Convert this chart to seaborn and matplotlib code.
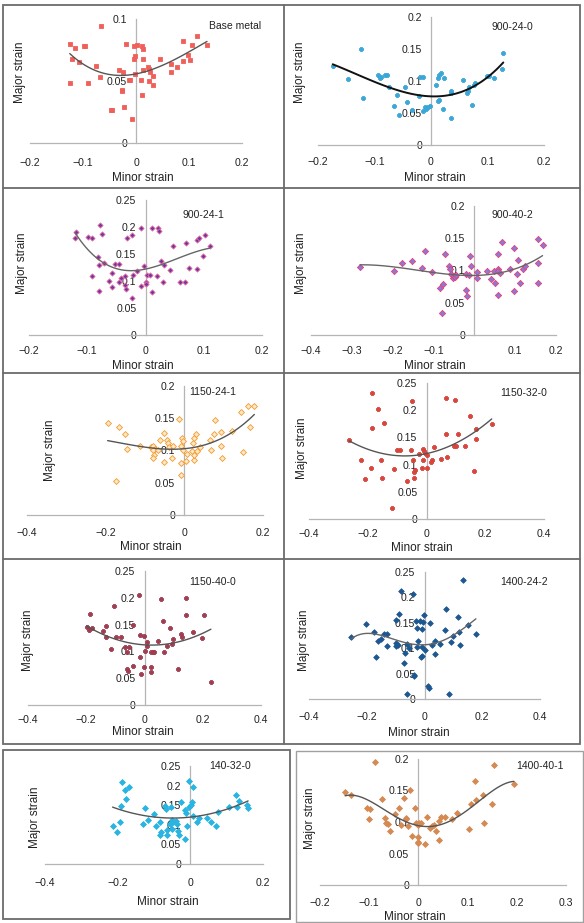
import matplotlib
matplotlib.use('Agg')
import matplotlib.pyplot as plt
import seaborn as sns
from matplotlib.ticker import FuncFormatter
from matplotlib.patches import Rectangle
from matplotlib.lines import Line2D

sns.set_style('white')
plt.rcParams['font.family'] = ['Liberation Sans', 'DejaVu Sans']

# ---------------------
# Data (minor strain, major strain)
# ---------------------
base_x = [-0.066, -0.125, -0.115, -0.099, -0.096, -0.018, -0.004, 0.001, 0.011, 0.013, -0.121, -0.108, -0.075, -0.067,
          -0.033, -0.025, -0.014, -0.011, -0.027, -0.026, -0.047, -0.045, -0.022, -0.008, -0.003, -0.001, 0.013, -0.001,
          0.009, 0.011, 0.013, 0.022, 0.024, 0.026, 0.024, 0.033, 0.033, 0.045, 0.066, 0.066, 0.077, 0.089, 0.089,
          0.098, 0.101, 0.105, 0.115, 0.134, -0.124, -0.091]
base_y = [0.094, 0.080, 0.077, 0.078, 0.078, 0.080, 0.078, 0.079, 0.078, 0.076, 0.068, 0.065, 0.062, 0.053,
          0.059, 0.057, 0.051, 0.051, 0.043, 0.042, 0.027, 0.027, 0.029, 0.019, 0.068, 0.070, 0.068, 0.056,
          0.051, 0.039, 0.059, 0.061, 0.060, 0.057, 0.050, 0.054, 0.047, 0.068, 0.064, 0.057, 0.061, 0.066, 0.082,
          0.071, 0.067, 0.079, 0.086, 0.079, 0.048, 0.048]

s900_24_0_x = [-0.174, -0.147, -0.124, -0.120, -0.093, -0.091, -0.089, -0.082, -0.077, -0.074, -0.066, -0.060, -0.057,
               -0.046, -0.042, -0.034, -0.022, -0.020, -0.015, -0.014, -0.011, -0.008, -0.005, -0.002, 0.008, 0.013,
               0.014, 0.017, 0.013, 0.014, 0.021, 0.023, 0.035, 0.035, 0.036, 0.057, 0.063, 0.066, 0.067, 0.073,
               0.076, 0.078, 0.099, 0.103, 0.112, 0.125, 0.128]
s900_24_0_y = [0.124, 0.103, 0.150, 0.073, 0.110, 0.105, 0.107, 0.110, 0.110, 0.091, 0.061, 0.078, 0.047,
               0.090, 0.067, 0.055, 0.077, 0.107, 0.107, 0.053, 0.060, 0.056, 0.059, 0.061, 0.093, 0.104,
               0.110, 0.112, 0.068, 0.071, 0.056, 0.104, 0.085, 0.081, 0.042, 0.101, 0.082, 0.085, 0.091, 0.063,
               0.093, 0.097, 0.108, 0.108, 0.105, 0.118, 0.144]

s900_24_1_x = [-0.119, -0.121, -0.078, -0.098, -0.091, -0.074, -0.081, -0.079, -0.071, -0.091, -0.080, -0.062, -0.058,
               -0.057, -0.052, -0.046, -0.045, -0.042, -0.036, -0.035, -0.034, -0.032, -0.024, -0.024, -0.022, -0.014,
               -0.008, -0.007, -0.002, 0.001, 0.001, 0.003, 0.007, 0.011, 0.011, 0.020, 0.021, 0.024, 0.027, 0.031,
               0.030, 0.042, 0.047, 0.060, 0.068, 0.069, 0.074, 0.088, 0.088, 0.092, 0.098, 0.102, 0.110]
s900_24_1_y = [0.191, 0.179, 0.204, 0.181, 0.179, 0.187, 0.145, 0.130, 0.133, 0.110, 0.081, 0.100, 0.114,
               0.088, 0.131, 0.131, 0.098, 0.106, 0.110, 0.093, 0.086, 0.179, 0.186, 0.068, 0.111, 0.119,
               0.090, 0.199, 0.127, 0.099, 0.094, 0.111, 0.112, 0.199, 0.080, 0.110, 0.198, 0.193, 0.137, 0.130,
               0.098, 0.120, 0.165, 0.098, 0.099, 0.170, 0.125, 0.122, 0.176, 0.179, 0.146, 0.186, 0.164]

s900_40_2_x = [-0.280, -0.197, -0.176, -0.153, -0.127, -0.121, -0.103, -0.084, -0.076, -0.078, -0.071, -0.062, -0.060,
               -0.057, -0.053, -0.051, -0.047, -0.045, -0.021, -0.021, -0.017, -0.013, -0.011, -0.007, 0.006, 0.006,
               0.032, 0.047, 0.042, 0.051, 0.059, 0.059, 0.057, 0.064, 0.059, 0.067, 0.087, 0.098, 0.098, 0.104,
               0.108, 0.112, 0.120, 0.124, 0.155, 0.157, 0.157, 0.167]
s900_40_2_y = [0.105, 0.099, 0.111, 0.115, 0.104, 0.130, 0.098, 0.073, 0.079, 0.034, 0.126, 0.107, 0.103,
               0.094, 0.088, 0.092, 0.090, 0.093, 0.095, 0.069, 0.060, 0.093, 0.122, 0.107, 0.098, 0.089,
               0.099, 0.099, 0.087, 0.081, 0.126, 0.103, 0.099, 0.096, 0.062, 0.144, 0.103, 0.135, 0.068, 0.095,
               0.116, 0.080, 0.102, 0.107, 0.149, 0.112, 0.081, 0.139]

s1150_24_1_x = [-0.195, -0.166, -0.150, -0.146, -0.173, -0.112, -0.085, -0.079, -0.074, -0.080, -0.078, -0.079, -0.063,
                -0.068, -0.051, -0.051, -0.045, -0.042, -0.040, -0.032, -0.028, -0.014, -0.008, -0.008, -0.008, -0.006,
                -0.004, -0.003, 0.003, 0.007, 0.020, 0.023, 0.024, 0.030, 0.024, 0.024, 0.032, 0.040, 0.066, 0.068,
                0.075, 0.077, 0.093, 0.093, 0.097, 0.122, 0.144, 0.150, 0.167, 0.163, 0.178]
s1150_24_1_y = [0.142, 0.136, 0.125, 0.102, 0.052, 0.107, 0.105, 0.107, 0.102, 0.101, 0.093, 0.089, 0.116,
                0.101, 0.127, 0.082, 0.116, 0.112, 0.106, 0.088, 0.107, 0.149, 0.107, 0.081, 0.062, 0.119,
                0.114, 0.101, 0.084, 0.095, 0.099, 0.112, 0.119, 0.126, 0.086, 0.093, 0.099, 0.106, 0.116, 0.101,
                0.125, 0.147, 0.128, 0.107, 0.088, 0.130, 0.159, 0.097, 0.136, 0.169, 0.169]

s1150_32_0_x = [-0.263, -0.224, -0.211, -0.190, -0.186, -0.186, -0.164, -0.154, -0.150, -0.144, -0.116, -0.109, -0.101,
                -0.090, -0.067, -0.052, -0.050, -0.047, -0.044, -0.039, -0.041, -0.027, -0.016, -0.013, -0.008, -0.005,
                -0.013, 0.001, 0.003, 0.016, 0.020, 0.026, 0.050, 0.066, 0.067, 0.071, 0.098, 0.094, 0.101, 0.107,
                0.132, 0.149, 0.160, 0.169, 0.169, 0.222]
s1150_32_0_y = [0.146, 0.109, 0.073, 0.093, 0.232, 0.167, 0.202, 0.109, 0.075, 0.176, 0.020, 0.092, 0.127,
                0.126, 0.069, 0.127, 0.217, 0.109, 0.087, 0.090, 0.075, 0.120, 0.093, 0.129, 0.125, 0.121,
                0.109, 0.093, 0.118, 0.104, 0.109, 0.132, 0.110, 0.157, 0.222, 0.114, 0.219, 0.135, 0.135, 0.157,
                0.135, 0.190, 0.089, 0.147, 0.165, 0.175]

s1150_40_0_x = [-0.199, -0.188, -0.190, -0.179, -0.144, -0.133, -0.133, -0.105, -0.099, -0.079, -0.116, -0.068, -0.060,
                -0.053, -0.060, -0.057, -0.039, -0.039, -0.019, -0.016, -0.014, -0.013, -0.001, -0.001, 0.003, 0.007,
                0.010, 0.021, 0.028, 0.032, 0.024, 0.024, 0.047, 0.055, 0.062, 0.068, 0.076, 0.087, 0.096, 0.099,
                0.116, 0.127, 0.130, 0.142, 0.142, 0.167, 0.196, 0.204, 0.228]
s1150_40_0_y = [0.146, 0.169, 0.140, 0.144, 0.138, 0.148, 0.127, 0.185, 0.127, 0.127, 0.105, 0.109, 0.099,
                0.109, 0.068, 0.063, 0.149, 0.073, 0.205, 0.130, 0.090, 0.058, 0.128, 0.071, 0.100, 0.110,
                0.118, 0.099, 0.099, 0.099, 0.070, 0.061, 0.119, 0.197, 0.157, 0.099, 0.110, 0.144, 0.113, 0.124,
                0.068, 0.133, 0.127, 0.199, 0.167, 0.136, 0.125, 0.167, 0.042]

s1400_24_2_x = [-0.253, -0.201, -0.175, -0.169, -0.160, -0.152, -0.140, -0.129, -0.131, -0.100, -0.091, -0.098, -0.098,
                -0.089, -0.083, -0.071, -0.066, -0.060, -0.052, -0.060, -0.040, -0.037, -0.035, -0.031, -0.026, -0.026,
                -0.022, -0.014, -0.010, -0.012, -0.008, -0.010, -0.005, -0.002, 0.000, 0.013, 0.017, 0.018, 0.026,
                0.038, 0.038, 0.052, 0.072, 0.076, 0.086, 0.093, 0.099, 0.115, 0.121, 0.124, 0.132, 0.151, 0.178]
s1400_24_2_y = [0.123, 0.148, 0.132, 0.082, 0.115, 0.119, 0.127, 0.127, 0.104, 0.110, 0.107, 0.104, 0.156,
                0.167, 0.213, 0.071, 0.091, 0.108, 0.100, 0.009, 0.207, 0.048, 0.045, 0.154, 0.140, 0.102,
                0.114, 0.154, 0.138, 0.082, 0.084, 0.102, 0.151, 0.166, 0.096, 0.026, 0.022, 0.150, 0.106,
                0.115, 0.089, 0.108, 0.135, 0.178, 0.010, 0.112, 0.125, 0.161, 0.132, 0.107, 0.235, 0.145, 0.128]

s140_32_0_x = [-0.214, -0.201, -0.191, -0.193, -0.187, -0.179, -0.178, -0.168, -0.131, -0.126, -0.117, -0.100, -0.095,
               -0.083, -0.081, -0.083, -0.070, -0.067, -0.065, -0.064, -0.056, -0.051, -0.047, -0.054, -0.051, -0.040,
               -0.038, -0.035, -0.031, -0.027, -0.015, -0.015, -0.012, -0.008, -0.004, 0.001, 0.004, -0.003, 0.006,
               0.008, 0.017, 0.025, 0.045, 0.057, 0.071, 0.077, 0.107, 0.125, 0.129, 0.135, 0.157, 0.159]
s140_32_0_y = [0.097, 0.081, 0.148, 0.106, 0.208, 0.188, 0.165, 0.197, 0.102, 0.142, 0.112, 0.127, 0.097,
               0.074, 0.081, 0.108, 0.147, 0.140, 0.086, 0.074, 0.103, 0.112, 0.108, 0.146, 0.089, 0.110,
               0.103, 0.084, 0.075, 0.157, 0.063, 0.137, 0.129, 0.097, 0.146, 0.150, 0.157, 0.211, 0.197,
               0.122, 0.106, 0.118, 0.118, 0.106, 0.097, 0.133, 0.146, 0.177, 0.146, 0.160, 0.150, 0.144]

s1400_40_1_x = [-0.149, -0.137, -0.104, -0.099, -0.100, -0.089, -0.075, -0.067, -0.065, -0.062, -0.057, -0.047, -0.040,
                -0.035, -0.030, -0.026, -0.025, -0.021, -0.018, -0.012, -0.006, -0.004, -0.001, 0.002, 0.006, -0.001,
                -0.001, -0.001, 0.014, 0.018, 0.023, 0.028, 0.031, 0.035, 0.041, 0.041, 0.045, 0.054, 0.069, 0.079,
                0.102, 0.106, 0.116, 0.118, 0.131, 0.133, 0.150, 0.153, 0.194]
s1400_40_1_y = [0.147, 0.143, 0.123, 0.121, 0.104, 0.196, 0.137, 0.106, 0.099, 0.097, 0.085, 0.113, 0.123,
                0.096, 0.138, 0.107, 0.105, 0.094, 0.151, 0.077, 0.122, 0.099, 0.096, 0.099, 0.099, 0.076,
                0.069, 0.066, 0.065, 0.108, 0.090, 0.094, 0.095, 0.086, 0.102, 0.071, 0.108, 0.108, 0.104, 0.114,
                0.089, 0.128, 0.165, 0.135, 0.143, 0.099, 0.129, 0.190, 0.160]

# ---------------------
# Layout (pixels in a 584 x 923 image)
# ---------------------
W, H = 584, 923
fig = plt.figure(figsize=(W / 100, H / 100), dpi=100)


def fx(px):
    return px / W


def fy(py):
    return 1 - py / H


def fmt(v, pos):
    v = round(v, 3)
    if v == 0:
        return '0'
    return ('%g' % v).replace('-', '\u2212')


paineis = [
    dict(nome='Base metal', x=base_x, y=base_y, box=(30, 242, 19, 143), xlim=(-0.2, 0.2),
         xt=[-0.2, -0.1, 0, 0.1, 0.2], ylim=(0, 0.1), yt=[0, 0.05, 0.1], yl=(20, 72), xl=(143, 178), xpad=8.4,
         tt=(235, 26), m='s', s=5, fc='#f0605a', ec='#f0605a', ordem=3, lc='#555555', lw=1.0),
    dict(nome='900-24-0', x=s900_24_0_x, y=s900_24_0_y, box=(318, 544, 17, 145), xlim=(-0.2, 0.2),
         xt=[-0.2, -0.1, 0, 0.1, 0.2], ylim=(0, 0.2), yt=[0, 0.05, 0.1, 0.15, 0.2], yl=(300, 72), xl=(435, 178),
         xpad=6.3, tt=(512, 27), m='P', s=7, fc='#3aa6d8', ec='#3aa6d8', ordem=3, lc='#111111', lw=1.4),
    dict(nome='900-24-1', x=s900_24_1_x, y=s900_24_1_y, box=(29, 262, 200, 335), xlim=(-0.2, 0.2),
         xt=[-0.2, -0.1, 0, 0.1, 0.2], ylim=(0, 0.25), yt=[0, 0.05, 0.1, 0.15, 0.2, 0.25], yl=(22, 263),
         xl=(143, 366), xpad=5.5, tt=(203, 215), m='D', s=7, fc='#6a3a9e', ec='#f06aa0', ordem=3, lc='#666666',
         lw=1.0),
    dict(nome='900-40-2', x=s900_40_2_x, y=s900_40_2_y, box=(311, 556, 206, 335), xlim=(-0.4, 0.2),
         xt=[-0.4, -0.3, -0.2, -0.1, 0.1, 0.2], ylim=(0, 0.2), yt=[0, 0.05, 0.1, 0.15, 0.2], yl=(301, 263),
         xl=(435, 366), xpad=5.5, tt=(512, 215), m='D', s=10, fc='#8a7ad8', ec='#e8407a', ordem=3, lc='#666666',
         lw=1.0),
    dict(nome='1150-24-1', x=s1150_24_1_x, y=s1150_24_1_y, box=(27, 263, 386, 515), xlim=(-0.4, 0.2),
         xt=[-0.4, -0.2, 0, 0.2], ylim=(0, 0.2), yt=[0, 0.05, 0.1, 0.15, 0.2], yl=(50, 450),
         xl=(151, 547), xpad=7.0, tt=(213, 392), m='D', s=9, fc='#fde8c8', ec='#f29a2e', ordem=3, lc='#555555',
         lw=1.0),
    dict(nome='1150-32-0', x=s1150_32_0_x, y=s1150_32_0_y, box=(309, 544, 383, 519), xlim=(-0.4, 0.4),
         xt=[-0.4, -0.2, 0, 0.2, 0.4], ylim=(0, 0.25), yt=[0, 0.05, 0.1, 0.15, 0.2, 0.25], yl=(302, 448),
         xl=(422, 548), xpad=5.0, tt=(524, 393), m='P', s=10, fc='#d9443a', ec='#d9443a', ordem=2, lc='#555555',
         lw=1.0),
    dict(nome='1150-40-0', x=s1150_40_0_x, y=s1150_40_0_y, box=(28, 261, 571, 705), xlim=(-0.4, 0.4),
         xt=[-0.4, -0.2, 0, 0.2, 0.4], ylim=(0, 0.25), yt=[0, 0.05, 0.1, 0.15, 0.2, 0.25], yl=(28, 640),
         xl=(143, 732), xpad=5.0, tt=(213, 582), m='P', s=6, fc='#a03c50', ec='#a03c50', ordem=2, lc='#555555',
         lw=1.0),
    dict(nome='1400-24-2', x=s1400_24_2_x, y=s1400_24_2_y, box=(309, 540, 572, 699), xlim=(-0.4, 0.4),
         xt=[-0.4, -0.2, 0, 0.2, 0.4], ylim=(0, 0.25), yt=[0, 0.05, 0.1, 0.15, 0.2, 0.25], yl=(304, 640),
         xl=(419, 733), xpad=7.0, tt=(524, 582), m='D', s=8, fc='#1d5790', ec='#1d5790', ordem=4, lc='#666666',
         lw=1.0),
    dict(nome='140-32-0', x=s140_32_0_x, y=s140_32_0_y, box=(45, 263, 766, 864), xlim=(-0.4, 0.2),
         xt=[-0.4, -0.2, 0, 0.2], ylim=(0, 0.25), yt=[0, 0.05, 0.1, 0.15, 0.2, 0.25], yl=(35, 817),
         xl=(168, 902), xpad=7.7, tt=(230, 766), m='D', s=9, fc='#2ab4e2', ec='#2ab4e2', ordem=2, lc='#555555',
         lw=1.0),
    dict(nome='1400-40-1', x=s1400_40_1_x, y=s1400_40_1_y, box=(320, 566, 759, 885), xlim=(-0.2, 0.3),
         xt=[-0.2, -0.1, 0, 0.1, 0.2, 0.3], ylim=(0, 0.2), yt=[0, 0.05, 0.1, 0.15, 0.2], yl=(310, 818),
         xl=(415, 917), xpad=7.0, tt=(540, 766), m='D', s=9, fc='#d48a52', ec='#d48a52', ordem=4, lc='#555555',
         lw=1.0),
]

cinza_eixo = '#b5b5b5'

for p in paineis:
    l, r, t, b = p['box']
    ax = fig.add_axes([fx(l), fy(b), (r - l) / W, (b - t) / H])
    ax.patch.set_alpha(0)

    sns.scatterplot(x=p['x'], y=p['y'], ax=ax, marker=p['m'], s=p['s'], color=p['fc'],
                    edgecolor=p['ec'], linewidth=0.6, zorder=3)
    sns.regplot(x=p['x'], y=p['y'], ax=ax, order=p['ordem'], ci=None, scatter=False, truncate=True,
                line_kws=dict(color=p['lc'], lw=p['lw'], zorder=4))

    ax.set_xlim(*p['xlim'])
    ax.set_ylim(*p['ylim'])
    ax.set_xticks(p['xt'])
    ax.set_yticks(p['yt'])
    ax.xaxis.set_major_formatter(FuncFormatter(fmt))
    ax.yaxis.set_major_formatter(FuncFormatter(fmt))

    # estilo Excel: eixo vertical cruzando em x = 0
    ax.spines['top'].set_visible(False)
    ax.spines['right'].set_visible(False)
    ax.spines['left'].set_position(('data', 0))
    for sp in ('left', 'bottom'):
        ax.spines[sp].set_color(cinza_eixo)
        ax.spines[sp].set_linewidth(0.9)
        ax.spines[sp].set_zorder(2)
    ax.tick_params(axis='both', direction='inout', length=5, width=0.9, color=cinza_eixo,
                   labelsize=7.6, labelcolor='#222222')
    ax.tick_params(axis='x', pad=p['xpad'])
    ax.tick_params(axis='y', pad=4)
    ax.grid(False)

    ax.set_xlabel('Minor strain', fontsize=8.5, color='#222222')
    ax.set_ylabel('Major strain', fontsize=8.5, color='#222222')
    ax.xaxis.set_label_coords(fx(p['xl'][0]), fy(p['xl'][1]), transform=fig.transFigure)
    ax.yaxis.set_label_coords(fx(p['yl'][0]), fy(p['yl'][1]), transform=fig.transFigure)
    ax.xaxis.label.set_va('center')
    ax.yaxis.label.set_va('center')

    fig.text(fx(p['tt'][0]), fy(p['tt'][1]), p['nome'], ha='center', va='center', fontsize=7.5, color='#222222')

# ---------------------
# Molduras dos painéis
# ---------------------
borda = '#6b6b6b'
fig.patches.append(Rectangle((fx(3), fy(744)), (580 - 3) / W, (744 - 5) / H, transform=fig.transFigure,
                             fill=False, ec=borda, lw=1.3))
for yy in (188, 373, 559):
    fig.lines.append(Line2D([fx(3), fx(580)], [fy(yy), fy(yy)], transform=fig.transFigure, color=borda, lw=1.3))
fig.lines.append(Line2D([fx(284), fx(284)], [fy(5), fy(744)], transform=fig.transFigure, color=borda, lw=1.3))
fig.patches.append(Rectangle((fx(3), fy(919)), (290 - 3) / W, (919 - 750) / H, transform=fig.transFigure,
                             fill=False, ec=borda, lw=1.3))
fig.patches.append(Rectangle((fx(296), fy(922)), (583 - 296) / W, (922 - 751) / H, transform=fig.transFigure,
                             fill=False, ec='#a0a0a0', lw=1.0))

plt.savefig('out.png', dpi=100)
